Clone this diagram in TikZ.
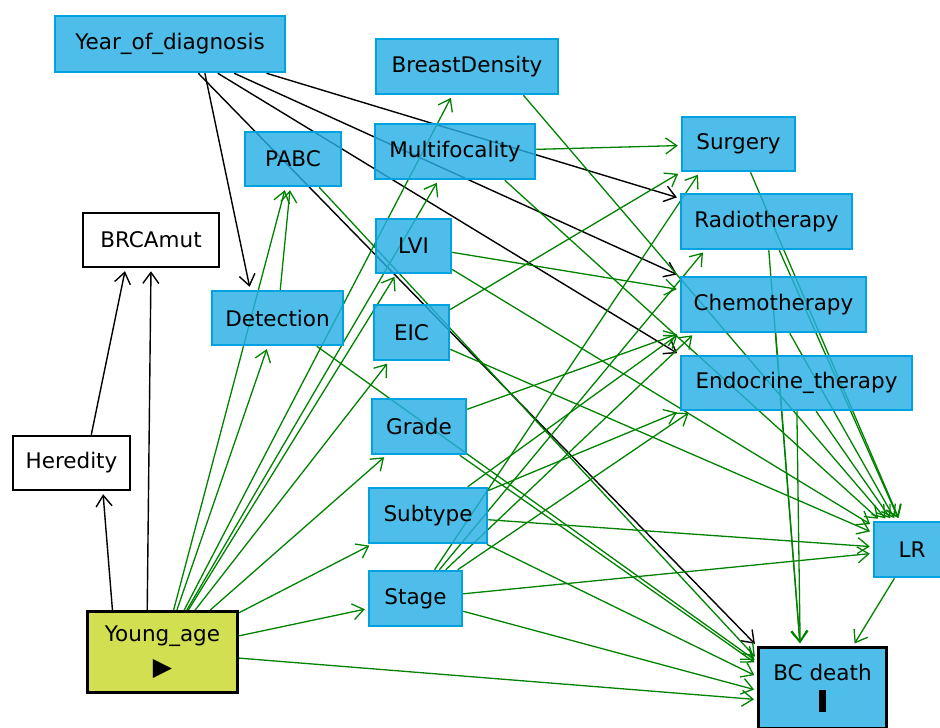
\documentclass[tikz,border=0pt]{standalone}
\usepackage{fontspec}
\setmainfont{DejaVu Sans}
\usetikzlibrary{arrows.meta, backgrounds}
\definecolor{varblue}{RGB}{39,175,228}
\definecolor{varborder}{RGB}{0,162,224}
\definecolor{expyellow}{RGB}{202,217,49}
\definecolor{pathgreen}{RGB}{0,130,0}
\tikzset{
x=1pt, y=-1pt, % one unit is one pixel of the layout, y runs down
>={Straight Barb[length=11pt,width=16pt]}, % open arrow heads
every node/.style={font=\fontsize{21.5}{25}\selectfont, inner sep=0pt},
var/.style={draw=varborder, line width=2.5pt, fill=varblue, fill opacity=0.82, text opacity=1}, % ordinary variable
plain/.style={draw=black, line width=2.5pt, fill=white}, % unobserved variable
exposure/.style={draw=black, line width=3pt, fill=expyellow, fill opacity=0.85, text opacity=1, align=center},
outcome/.style={var, draw=black, line width=3pt, align=center},
causal/.style={->, draw=pathgreen, line width=1.3pt, shorten >=3pt}, % causal path
biasing/.style={->, draw=black, line width=1.4pt, shorten >=3pt}, % other path
}

\begin{document}
\begin{tikzpicture}
\useasboundingbox (0,0) rectangle (940,728);

\node[var, minimum width=230, minimum height=56] at (170,44) (year) {Year\_of\_diagnosis};
\node[var, minimum width=182, minimum height=55] at (467,66.5) (density) {BreastDensity};
\node[var, minimum width=96, minimum height=54] at (293,159) (pabc) {PABC};
\node[var, minimum width=160, minimum height=55] at (455,151.5) (multi) {Multifocality};
\node[var, minimum width=113, minimum height=54] at (738.5,144) (surgery) {Surgery};
\node[var, minimum width=171, minimum height=55] at (766.5,221.5) (radio) {Radiotherapy};
\node[plain, minimum width=136, minimum height=54] at (151,240) (brca) {BRCAmut};
\node[var, minimum width=75, minimum height=54] at (413.5,246) (lvi) {LVI};
\node[var, minimum width=131, minimum height=54] at (277.5,318) (detect) {Detection};
\node[var, minimum width=75, minimum height=55] at (411.5,332.5) (eic) {EIC};
\node[var, minimum width=185, minimum height=55] at (773.5,304.5) (chemo) {Chemotherapy};
\node[var, minimum width=231, minimum height=54] at (796.5,383) (endo) {Endocrine\_therapy};
\node[var, minimum width=94, minimum height=55] at (419,426.5) (grade) {Grade};
\node[plain, minimum width=117, minimum height=54] at (71.5,463) (heredity) {Heredity};
\node[var, minimum width=118, minimum height=55] at (428,515.5) (subtype) {Subtype};
\node[var, minimum width=76, minimum height=55] at (912,549.5) (lr) {LR};
\node[var, minimum width=93, minimum height=55] at (415.5,598.5) (stage) {Stage};
\node[exposure, minimum width=150, minimum height=81] at (162.5,652) (young) {Young\_age\\[9pt]{\fontsize{25}{25}\selectfont ▶}};
\node[outcome, minimum width=128, minimum height=81] at (822.5,688) (death) {BC death\\[6pt]\rule{7pt}{22pt}};

\begin{scope}[on background layer]
\draw (year.320) edge[biasing] (detect.134);
\draw (year) edge[biasing] (radio.165);
\draw (year) edge[biasing] (chemo.north west);
\draw (year) edge[biasing] (endo.north west);
\draw (year) edge[biasing] (death.north west);
\draw (young.140) edge[biasing] (heredity.318);
\draw (young.110) edge[biasing] (brca.270);
\draw (heredity.55) edge[biasing] (brca.228);

\draw (young) edge[causal] (detect);
\draw (young) edge[causal] (pabc);
\draw (young) edge[causal] (density);
\draw (young) edge[causal] (multi);
\draw (young) edge[causal] (lvi);
\draw (young) edge[causal] (eic);
\draw (young) edge[causal] (grade);
\draw (young) edge[causal] (subtype);
\draw (young) edge[causal] (stage);
\draw (young) edge[causal] (death.190);
\draw (detect) edge[causal] (pabc);
\draw (detect) edge[causal] (death.158);
\draw (pabc) edge[causal] (death.156);
\draw (density.333) edge[causal] (lr);
\draw (multi) edge[causal] (surgery);
\draw (multi.330) edge[causal] (lr);
\draw (lvi) edge[causal] (chemo.171);
\draw (lvi) edge[causal] (lr);
\draw (eic) edge[causal] (surgery.south west);
\draw (eic) edge[causal] (lr);
\draw (grade) edge[causal] (chemo.south west);
\draw (grade) edge[causal] (death.160);
\draw (subtype) edge[causal] (chemo.south west);
\draw (subtype) edge[causal] (endo.south west);
\draw (subtype) edge[causal] (lr);
\draw (subtype) edge[causal] (death.170);
\draw (stage) edge[causal] (surgery.216);
\draw (stage) edge[causal] (radio.205);
\draw (stage) edge[causal] (chemo.200);
\draw (stage) edge[causal] (endo.195);
\draw (stage) edge[causal] (lr);
\draw (stage) edge[causal] (death.182);
\draw (surgery) edge[causal] (lr);
\draw (radio) edge[causal] (lr);
\draw (radio) edge[causal] (death.118);
\draw (chemo) edge[causal] (lr);
\draw (chemo) edge[causal] (death.118);
\draw (endo) edge[causal] (lr);
\draw (endo) edge[causal] (death.118);
\draw (lr) edge[causal] (death.54);
\end{scope}

\end{tikzpicture}
\end{document}
